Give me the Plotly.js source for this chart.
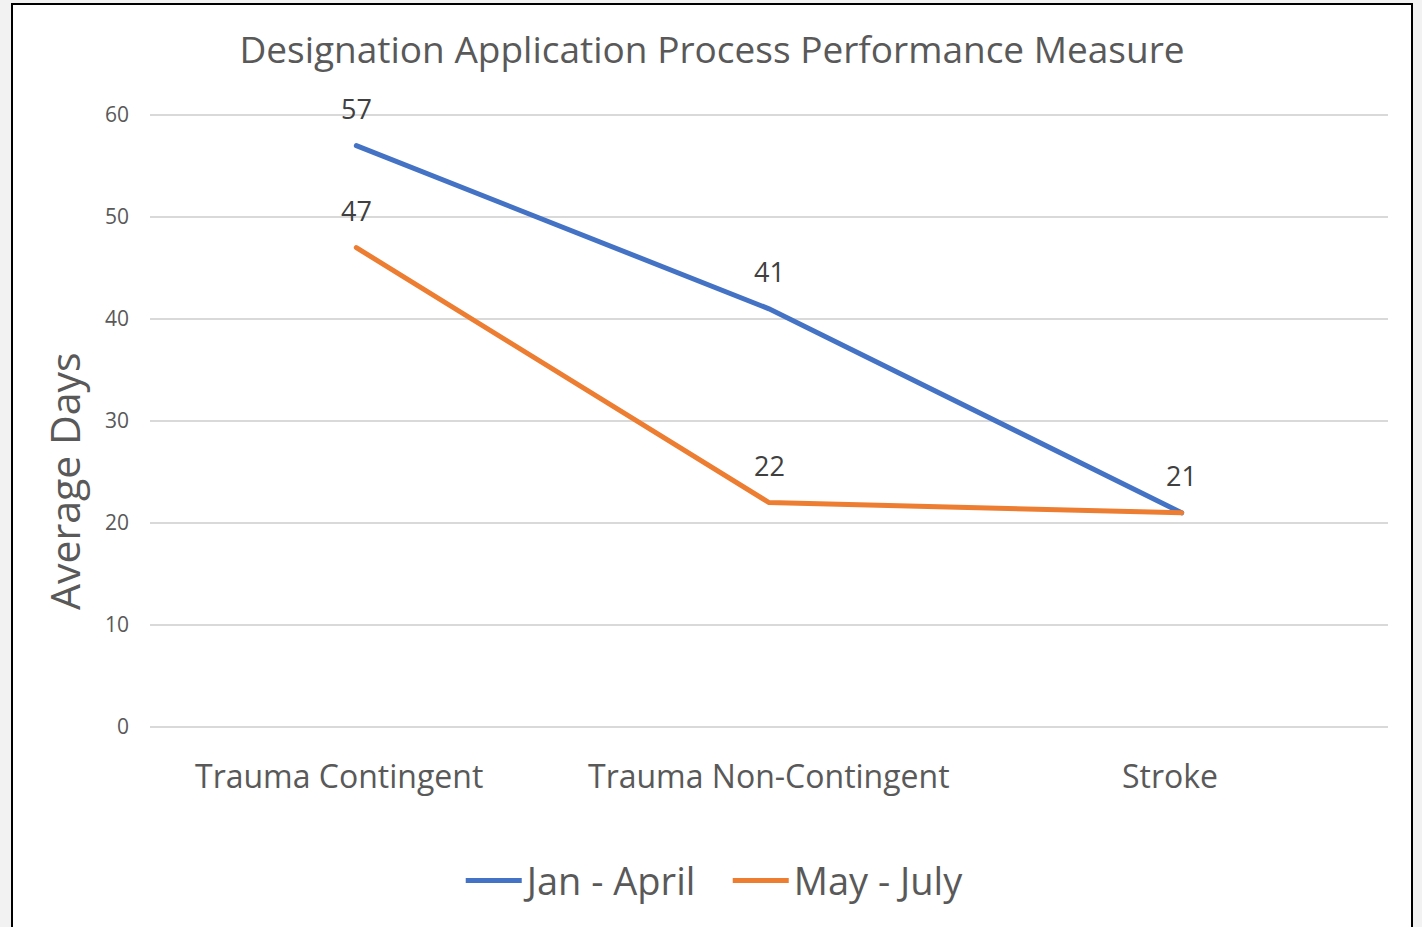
<!DOCTYPE html>
<html>
<head>
<meta charset="utf-8">
<script src="https://cdn.plot.ly/plotly-3.0.1.min.js"></script>
<style>
  html, body { margin: 0; padding: 0; background: #f2f2f2; overflow: hidden; }
  #frame {
    position: absolute; left: 11px; top: 3px;
    width: 1402px; height: 930px;
    box-sizing: border-box; border: 2px solid #000; background: #fff;
  }
  #chart { width: 1398px; height: 926px; }
  /* Excel draws round line ends */
  #chart .scatterlayer path.js-line { stroke-linecap: round; }
</style>
</head>
<body>
<div id="frame"><div id="chart"></div></div>
<script>
// Data
const categories = ["Trauma Contingent", "Trauma Non-Contingent", "Stroke"];
const janApril = [57, 41, 21];
const mayJuly = [47, 22, 21];
const janAprilLabels = ["57", "41", ""]; // 21 overlaps the orange label
const mayJulyLabels = ["47", "22", "21"];

const FONT = "Open Sans, sans-serif";
const GREY = "#595959";
const BLUE = "#4472C4";
const ORANGE = "#ED7D31";
// Excel nudges its category labels a little left of the point
const CAT_SHIFT = [-17, 0, -12];

const traces = [
  {
    x: categories, y: janApril, name: "Jan - April",
    type: "scatter", mode: "lines",
    line: { color: BLUE, width: 5 },
    hoverinfo: "skip",
  },
  {
    x: categories, y: mayJuly, name: "May - July",
    type: "scatter", mode: "lines",
    line: { color: ORANGE, width: 5 },
    hoverinfo: "skip",
  },
];

// data labels sit well above the points, like Excel's "above" labels
function labelAnnotations(values, labels) {
  return values
    .map((v, i) => ({
      x: categories[i], y: v, text: labels[i],
      showarrow: false, yshift: 37,
      font: { family: FONT, size: 27, color: "#404040" },
    }))
    .filter((a) => a.text !== "");
}

const catLabels = categories.map((c, i) => ({
  x: c, xref: "x", yref: "paper", y: -0.076,
  text: c, xshift: CAT_SHIFT[i],
  xanchor: "center", yanchor: "middle", showarrow: false,
  font: { family: FONT, size: 32, color: GREY },
}));

// Excel centres the axis title lower than the plot middle, so draw it as an annotation
const yTitle = {
  text: "Average Days",
  xref: "paper", yref: "paper",
  x: -0.069, y: 0.402,
  xanchor: "center", yanchor: "middle",
  textangle: -90, showarrow: false,
  font: { family: FONT, size: 41, color: GREY },
};

const layout = {
  width: 1398,
  height: 926,
  paper_bgcolor: "#fff",
  plot_bgcolor: "#fff",
  margin: { l: 137, r: 23, t: 108, b: 202 },
  font: { family: FONT, color: GREY },
  title: {
    text: "Designation Application Process Performance Measure",
    font: { family: FONT, size: 37, color: GREY },
    x: 0.5, xanchor: "center",
    y: 0.951, yanchor: "middle",
    yref: "container",
  },
  xaxis: {
    type: "category",
    range: [-0.5, 2.5],
    showgrid: false,
    showline: false,
    zeroline: false,
    ticks: "",
    showticklabels: false,
  },
  yaxis: {
    range: [-0.2, 60.2],
    tickvals: [0, 10, 20, 30, 40, 50, 60],
    showgrid: true,
    gridcolor: "#d9d9d9",
    gridwidth: 1.5,
    zeroline: false,
    showline: false,
    ticks: "",
    ticklabelstandoff: 20,
    tickfont: { family: FONT, size: 21, color: GREY },
  },
  showlegend: true,
  legend: {
    orientation: "h",
    x: 0.251, xanchor: "left",
    y: -0.2465, yanchor: "middle",
    font: { family: FONT, size: 38, color: GREY },
    itemwidth: 56,
    entrywidth: 196,
    entrywidthmode: "pixels",
    bgcolor: "rgba(0,0,0,0)",
  },
  annotations: [
    ...labelAnnotations(janApril, janAprilLabels),
    ...labelAnnotations(mayJuly, mayJulyLabels),
    ...catLabels,
    yTitle,
  ],
};

Plotly.newPlot("chart", traces, layout, { displayModeBar: false, staticPlot: true });
</script>
</body>
</html>
